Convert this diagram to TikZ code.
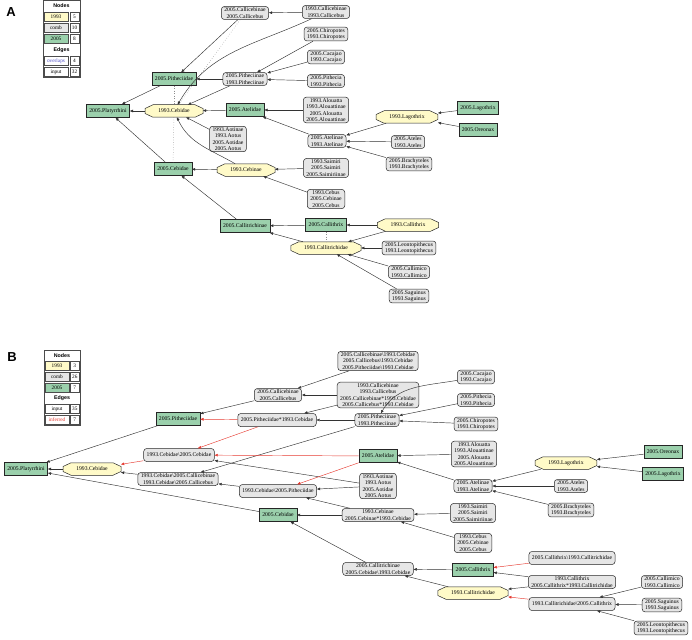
\documentclass[tikz,border=0pt]{standalone}
\usepackage{fontspec}
\setmainfont{Liberation Serif}
\setsansfont{Liberation Sans}
\usetikzlibrary{arrows.meta,backgrounds}

\definecolor{green05}{RGB}{155,208,172}
\definecolor{yellow93}{RGB}{255,250,200}
\definecolor{comb}{RGB}{230,230,230}
\definecolor{overlapblue}{RGB}{80,80,200}
\definecolor{inferredred}{RGB}{230,60,50}
\newcommand{\bsl}{\textbackslash}
% octagon outline behind a 1993 node
\newcommand{\octagonbox}[1]{%
    \begin{scope}[on background layer]
        \draw[octagon] ([yshift=2.5pt]#1.west) -- ([xshift=8pt]#1.north west)
            -- ([xshift=-8pt]#1.north east) -- ([yshift=2.5pt]#1.east)
            -- ([yshift=-2.5pt]#1.east) -- ([xshift=-8pt]#1.south east)
            -- ([xshift=8pt]#1.south west) -- ([yshift=-2.5pt]#1.west) -- cycle;
    \end{scope}}

\begin{document}
\begin{tikzpicture}[
        x=1pt, y=-1pt,
        taxon/.style={draw=black!85, line width=0.5pt, align=center,
                      font=\fontsize{5.7}{6.4}\selectfont, inner xsep=3pt, inner ysep=1.2pt},
        new/.style={taxon, fill=green05, minimum height=13pt},
        old/.style={taxon, draw=none, minimum height=12pt, inner xsep=13pt, inner ysep=0.5pt},
        octagon/.style={draw=black!85, line width=0.5pt, fill=yellow93},
        combo/.style={taxon, fill=comb, rounded corners=3pt, minimum height=13pt},
        edge/.style={-{Triangle[length=3.2pt,width=2.6pt]}, black!80, line width=0.45pt},
        inferred/.style={edge, inferredred},
        overlap/.style={dotted, black!45, line width=0.5pt},
        panel/.style={font=\sffamily\bfseries\fontsize{13}{13}\selectfont, inner sep=0pt},
        legcell/.style={draw=black!70, line width=0.4pt, inner sep=0pt,
                        minimum height=9pt, font=\fontsize{5.3}{6}\selectfont},
        leghead/.style={inner sep=0pt, font=\sffamily\bfseries\fontsize{5.3}{6}\selectfont}
    ]
        \useasboundingbox (0,0) rectangle (692,639);

        % ---------------- panel A ----------------
        \node[panel] (label-a) at (11,12) {A};

        \draw[black!70, line width=0.4pt] (43,0.5) rectangle (80,77.5);
        \node[leghead] (lega-nodes) at (61.5,6) {Nodes};
        \node[leghead] (lega-edges) at (61.5,50) {Edges};
        \foreach \key/\lab/\bg/\fg/\num/\row in {y93/1993/yellow93/black/5/1,
                cb/comb/comb/black/10/2, g05/2005/green05/black/8/3,
                ov/overlaps/white/overlapblue/4/5, in/input/white/black/32/6} {
            \node[legcell, fill=\bg, text=\fg, minimum width=24pt] (lega-\key) at (56,6+11*\row) {\lab};
            \node[legcell, minimum width=9pt] (lega-\key-n) at (74.5,6+11*\row) {\num};
        }

        \node[new] (a-platyrrhini05) at (108,111) {2005.Platyrrhini};
        \node[old] (a-cebidae93) at (174,111) {1993.Cebidae};
        \node[new] (a-pitheciidae05) at (174,79) {2005.Pitheciidae};
        \node[combo] (a-callicebinae05) at (245,13) {2005.Callicebinae\\2005.Callicebus};
        \node[combo] (a-callicebinae93) at (326,12) {1993.Callicebinae\\1993.Callicebus};
        \node[combo] (a-chiropotes) at (326,34) {2005.Chiropotes\\1993.Chiropotes};
        \node[combo] (a-cacajao) at (326,57) {2005.Cacajao\\1993.Cacajao};
        \node[combo] (a-pithecia) at (326,81) {2005.Pithecia\\1993.Pithecia};
        \node[combo] (a-pitheciinae) at (245,79) {2005.Pitheciinae\\1993.Pitheciinae};
        \node[new] (a-atelidae05) at (245,110) {2005.Atelidae};
        \node[combo] (a-alouatta) at (326,110) {1993.Alouatta\\1993.Alouattinae\\2005.Alouatta\\2005.Alouattinae};
        \node[combo] (a-aotinae) at (228,139) {1993.Aotinae\\1993.Aotus\\2005.Aotidae\\2005.Aotus};
        \node[combo] (a-atelinae) at (327,141) {2005.Atelinae\\1993.Atelinae};
        \node[old] (a-lagothrix93) at (407,117) {1993.Lagothrix};
        \node[new] (a-lagothrix05) at (478,108) {2005.Lagothrix};
        \node[new] (a-oreonax05) at (478,130) {2005.Oreonax};
        \node[combo] (a-ateles) at (408,142) {2005.Ateles\\1993.Ateles};
        \node[combo] (a-brachyteles) at (409,164) {2005.Brachyteles\\1993.Brachyteles};
        \node[new] (a-cebidae05) at (173,169) {2005.Cebidae};
        \node[old] (a-cebinae93) at (246,170) {1993.Cebinae};
        \node[combo] (a-saimiri) at (326,168) {1993.Saimiri\\2005.Saimiri\\2005.Saimiriinae};
        \node[combo] (a-cebus) at (326,199) {1993.Cebus\\2005.Cebinae\\2005.Cebus};
        \node[new] (a-callitrichinae05) at (245,226) {2005.Callitrichinae};
        \node[new] (a-callithrix05) at (326,225) {2005.Callithrix};
        \node[old] (a-callithrix93) at (408,225) {1993.Callithrix};
        \node[old] (a-callitrichidae93) at (326,248) {1993.Callitrichidae};
        \node[combo] (a-leontopithecus) at (409,248) {2005.Leontopithecus\\1993.Leontopithecus};
        \node[combo] (a-callimico) at (409,272) {2005.Callimico\\1993.Callimico};
        \node[combo] (a-saguinus) at (409,296) {2005.Saguinus\\1993.Saguinus};

        \foreach \n in {a-cebidae93, a-lagothrix93, a-cebinae93, a-callithrix93, a-callitrichidae93}
            {\octagonbox{\n}}

        \draw[overlap] (a-pitheciidae05) -- (a-cebidae93);
        \draw[overlap] (a-cebidae93) -- (a-cebidae05);
        \draw[overlap] (a-callithrix05) -- (a-callitrichidae93);
        \draw[overlap] (a-callicebinae05) -- (a-cebidae93);

        \draw[edge] (a-cebidae93) -- (a-platyrrhini05);
        \draw[edge] (a-pitheciidae05) -- (a-platyrrhini05);
        \draw[edge] (a-cebidae05) -- (a-platyrrhini05);
        \draw[edge] (a-callicebinae05) -- (a-pitheciidae05);
        \draw[edge] (a-pitheciinae) -- (a-pitheciidae05);
        \draw[edge] (a-callicebinae93) -- (a-callicebinae05);
        \draw[edge] (a-callicebinae93) to[out=205, in=60] (a-cebidae93);
        \draw[edge] (a-pitheciinae) -- (a-cebidae93);
        \draw[edge] (a-chiropotes) -- (a-pitheciinae);
        \draw[edge] (a-cacajao) -- (a-pitheciinae);
        \draw[edge] (a-pithecia) -- (a-pitheciinae);
        \draw[edge] (a-atelidae05) -- (a-cebidae93);
        \draw[edge] (a-alouatta) -- (a-atelidae05);
        \draw[edge] (a-atelinae) -- (a-atelidae05);
        \draw[edge] (a-aotinae) -- (a-cebidae93);
        \draw[edge] (a-lagothrix93) -- (a-atelinae);
        \draw[edge] (a-lagothrix05) -- (a-lagothrix93);
        \draw[edge] (a-oreonax05) -- (a-lagothrix93);
        \draw[edge] (a-ateles) -- (a-atelinae);
        \draw[edge] (a-brachyteles) -- (a-atelinae);
        \draw[edge] (a-cebinae93) -- (a-cebidae05);
        \draw[edge] (a-cebinae93) to[out=150, in=-65] (a-cebidae93);
        \draw[edge] (a-saimiri) -- (a-cebinae93);
        \draw[edge] (a-cebus) -- (a-cebinae93);
        \draw[edge] (a-callitrichinae05) -- (a-cebidae05);
        \draw[edge] (a-callithrix05) -- (a-callitrichinae05);
        \draw[edge] (a-callitrichidae93) -- (a-callitrichinae05);
        \draw[edge] (a-callithrix93) -- (a-callithrix05);
        \draw[edge] (a-callithrix93) -- (a-callitrichidae93);
        \draw[edge] (a-leontopithecus) -- (a-callitrichidae93);
        \draw[edge] (a-callimico) -- (a-callitrichidae93);
        \draw[edge] (a-saguinus) -- (a-callitrichidae93);

        % ---------------- panel B ----------------
        \node[panel] (label-b) at (12,357) {B};

        \draw[black!70, line width=0.4pt] (44,350) rectangle (80,425);
        \node[leghead] (legb-nodes) at (62,355.4) {Nodes};
        \node[leghead] (legb-edges) at (62,398.2) {Edges};
        \foreach \key/\lab/\bg/\fg/\num/\row in {y93/1993/yellow93/black/3/1,
                cb/comb/comb/black/26/2, g05/2005/green05/black/7/3,
                in/input/white/black/35/5, inf/inferred/white/inferredred/7/6} {
            \node[legcell, fill=\bg, text=\fg, minimum width=24pt] (legb-\key) at (57,355.4+10.7*\row) {\lab};
            \node[legcell, minimum width=8.5pt] (legb-\key-n) at (74.8,355.4+10.7*\row) {\num};
        }

        \node[new] (b-platyrrhini05) at (26,469) {2005.Platyrrhini};
        \node[old] (b-cebidae93) at (92,469) {1993.Cebidae};
        \node[new] (b-pitheciidae05) at (178,419) {2005.Pitheciidae};
        \node[combo] (b-cebidae-cebidae) at (179,455) {1993.Cebidae\bsl 2005.Cebidae};
        \node[combo] (b-cebidae-callicebinae) at (178,479) {1993.Cebidae\bsl 2005.Callicebinae\\1993.Cebidae\bsl 2005.Callicebus};
        \node[combo] (b-cebidae-pitheciidae) at (278,491) {1993.Cebidae\bsl 2005.Pitheciidae};
        \node[new] (b-cebidae05) at (278,515) {2005.Cebidae};
        \node[combo] (b-cebinae93) at (378,515) {1993.Cebinae\\2005.Cebinae*1993.Cebidae};
        \node[combo] (b-aotinae) at (378,486) {1993.Aotinae\\1993.Aotus\\2005.Aotidae\\2005.Aotus};
        \node[new] (b-atelidae05) at (378,456) {2005.Atelidae};
        \node[combo] (b-callicebinae05) at (278,395) {2005.Callicebinae\\2005.Callicebus};
        \node[combo] (b-callicebinae-cebidae) at (378,361) {2005.Callicebinae\bsl 1993.Cebidae\\2005.Callicebus\bsl 1993.Cebidae\\2005.Pitheciidae\bsl 1993.Cebidae};
        \node[combo] (b-callicebinae93) at (378,395) {1993.Callicebinae\\1993.Callicebus\\2005.Callicebinae*1993.Cebidae\\2005.Callicebus*1993.Cebidae};
        \node[combo] (b-pitheciidae-cebidae) at (277,420) {2005.Pitheciidae*1993.Cebidae};
        \node[combo] (b-pitheciinae) at (377,420) {2005.Pitheciinae\\1993.Pitheciinae};
        \node[combo] (b-cacajao) at (476,377) {2005.Cacajao\\1993.Cacajao};
        \node[combo] (b-pithecia) at (476,400) {2005.Pithecia\\1993.Pithecia};
        \node[combo] (b-chiropotes) at (476,424) {2005.Chiropotes\\1993.Chiropotes};
        \node[combo] (b-alouatta) at (474,454) {1993.Alouatta\\1993.Alouattinae\\2005.Alouatta\\2005.Alouattinae};
        \node[combo] (b-atelinae) at (473,486) {2005.Atelinae\\1993.Atelinae};
        \node[combo] (b-saimiri) at (473,513) {1993.Saimiri\\2005.Saimiri\\2005.Saimiriinae};
        \node[combo] (b-cebus) at (473,543) {1993.Cebus\\2005.Cebinae\\2005.Cebus};
        \node[old] (b-lagothrix93) at (566,463) {1993.Lagothrix};
        \node[new] (b-oreonax05) at (663,452) {2005.Oreonax};
        \node[new] (b-lagothrix05) at (663,474) {2005.Lagothrix};
        \node[combo] (b-ateles) at (571,486) {2005.Ateles\\1993.Ateles};
        \node[combo] (b-brachyteles) at (571,510) {2005.Brachyteles\\1993.Brachyteles};
        \node[combo] (b-callitrichinae) at (378,569) {2005.Callitrichinae\\2005.Cebidae\bsl 1993.Cebidae};
        \node[new] (b-callithrix05) at (473,570) {2005.Callithrix};
        \node[combo] (b-callithrix-callitrichidae) at (572,558) {2005.Callithrix\bsl 1993.Callitrichidae};
        \node[combo] (b-callithrix93) at (572,582) {1993.Callithrix\\2005.Callithrix*1993.Callitrichidae};
        \node[old] (b-callitrichidae93) at (473,593) {1993.Callitrichidae};
        \node[combo] (b-callitrichidae-callithrix) at (572,604) {1993.Callitrichidae\bsl 2005.Callithrix};
        \node[combo] (b-callimico) at (662,582) {2005.Callimico\\1993.Callimico};
        \node[combo] (b-saguinus) at (662,605) {2005.Saguinus\\1993.Saguinus};
        \node[combo] (b-leontopithecus) at (661,628) {2005.Leontopithecus\\1993.Leontopithecus};

        \foreach \n in {b-cebidae93, b-lagothrix93, b-callitrichidae93}
            {\octagonbox{\n}}

        \draw[edge] (b-cebidae93) -- (b-platyrrhini05);
        \draw[edge] (b-pitheciidae05) -- (b-platyrrhini05);
        \draw[edge] (b-cebidae05) -- (b-platyrrhini05);
        \draw[edge] (b-callicebinae05) -- (b-pitheciidae05);
        \draw[edge] (b-callicebinae-cebidae) -- (b-callicebinae05);
        \draw[edge] (b-callicebinae93) -- (b-callicebinae05);
        \draw[edge] (b-callicebinae93) -- (b-pitheciidae-cebidae);
        \draw[edge] (b-pitheciinae) -- (b-pitheciidae-cebidae);
        \draw[edge] (b-pitheciinae) -- (b-cebidae-callicebinae);
        \draw[edge] (b-cacajao) to[out=190, in=60] (b-pitheciinae);
        \draw[edge] (b-pithecia) -- (b-pitheciinae);
        \draw[edge] (b-chiropotes) -- (b-pitheciinae);
        \draw[edge] (b-cebidae-callicebinae) -- (b-cebidae93);
        \draw[edge] (b-cebidae-pitheciidae) -- (b-cebidae-callicebinae);
        \draw[edge] (b-aotinae) -- (b-cebidae-cebidae);
        \draw[edge] (b-aotinae) -- (b-cebidae-pitheciidae);
        \draw[edge] (b-cebinae93) -- (b-cebidae05);
        \draw[edge] (b-cebinae93) -- (b-cebidae-pitheciidae);
        \draw[edge] (b-saimiri) -- (b-cebinae93);
        \draw[edge] (b-cebus) -- (b-cebinae93);
        \draw[edge] (b-alouatta) -- (b-atelidae05);
        \draw[edge] (b-atelinae) -- (b-atelidae05);
        \draw[edge] (b-lagothrix93) -- (b-atelinae);
        \draw[edge] (b-oreonax05) -- (b-lagothrix93);
        \draw[edge] (b-lagothrix05) -- (b-lagothrix93);
        \draw[edge] (b-ateles) -- (b-atelinae);
        \draw[edge] (b-brachyteles) -- (b-atelinae);
        \draw[edge] (b-callitrichinae) -- (b-cebidae05);
        \draw[edge] (b-callithrix05) -- (b-callitrichinae);
        \draw[edge] (b-callitrichidae93) -- (b-callitrichinae);
        \draw[edge] (b-callithrix93) -- (b-callithrix05);
        \draw[edge] (b-callithrix93) -- (b-callitrichidae93);
        \draw[edge] (b-callimico) -- (b-callitrichidae-callithrix);
        \draw[edge] (b-saguinus) -- (b-callitrichidae-callithrix);
        \draw[edge] (b-leontopithecus) -- (b-callitrichidae-callithrix);

        \draw[inferred] (b-pitheciidae-cebidae) -- (b-pitheciidae05);
        \draw[inferred] (b-pitheciidae-cebidae) -- (b-cebidae-cebidae);
        \draw[inferred] (b-cebidae-cebidae) -- (b-cebidae93);
        \draw[inferred] (b-atelidae05) -- (b-cebidae-cebidae);
        \draw[inferred] (b-atelidae05) -- (b-cebidae-pitheciidae);
        \draw[inferred] (b-callithrix-callitrichidae) -- (b-callithrix05);
        \draw[inferred] (b-callitrichidae-callithrix) -- (b-callitrichidae93);
    \end{tikzpicture}
\end{document}
